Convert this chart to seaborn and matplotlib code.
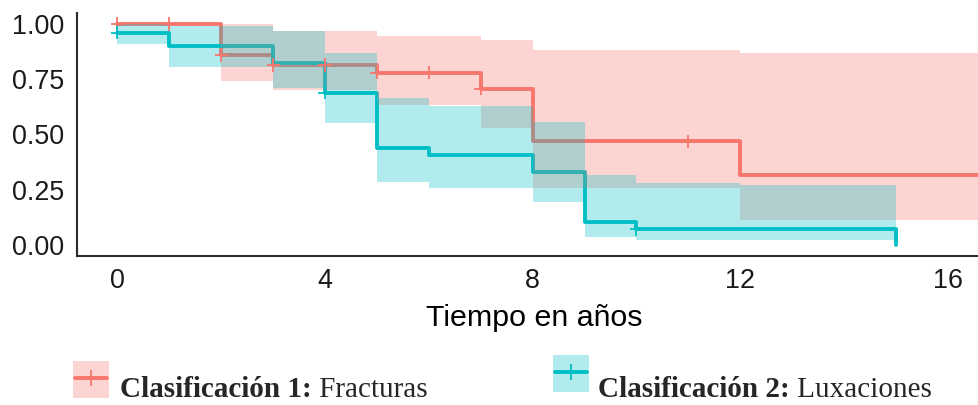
import numpy as np
import pandas as pd
import matplotlib
matplotlib.use("Agg")
import matplotlib.pyplot as plt
import seaborn as sns
from matplotlib.patches import Rectangle
from matplotlib.lines import Line2D

# Kaplan-Meier step values
frac_time = [0, 2, 3, 5, 7, 8, 12, 17]
frac_surv = [1.00, 0.86, 0.815, 0.78, 0.707, 0.47, 0.315, 0.315]
frac_lower = [1.00, 0.743, 0.70, 0.635, 0.53, 0.257, 0.113, 0.113]
frac_upper = [1.00, 1.00, 0.97, 0.946, 0.93, 0.883, 0.87, 0.87]
frac_cens_time = [0, 1, 2, 3, 4, 5, 6, 7, 11]
frac_cens_surv = [1.00, 1.00, 0.86, 0.815, 0.815, 0.78, 0.78, 0.707, 0.47]

lux_time = [0, 1, 3, 4, 5, 6, 8, 9, 10, 12, 15]
lux_surv = [0.96, 0.90, 0.825, 0.69, 0.437, 0.405, 0.33, 0.105, 0.07, 0.07, 0.0]
lux_lower = [0.91, 0.806, 0.71, 0.55, 0.284, 0.257, 0.194, 0.036, 0.022, 0.022, 0.0]
lux_upper = [1.00, 0.99, 0.97, 0.87, 0.667, 0.63, 0.555, 0.315, 0.28, 0.27, 0.0]
lux_cens_time = [0, 4, 10]
lux_cens_surv = [0.96, 0.69, 0.07]

groups = ["Fracturas", "Luxaciones"]
colors = {"Fracturas": "#F8766D", "Luxaciones": "#00BFC4"}
x_ticks = [0, 4, 8, 12, 16]
y_ticks = [0.00, 0.25, 0.50, 0.75, 1.00]

curves = pd.concat([
    pd.DataFrame({"tiempo": frac_time, "surv": frac_surv, "lower": frac_lower,
                  "upper": frac_upper, "grupo": "Fracturas"}),
    pd.DataFrame({"tiempo": lux_time, "surv": lux_surv, "lower": lux_lower,
                  "upper": lux_upper, "grupo": "Luxaciones"}),
], ignore_index=True)
censors = pd.concat([
    pd.DataFrame({"tiempo": frac_cens_time, "surv": frac_cens_surv, "grupo": "Fracturas"}),
    pd.DataFrame({"tiempo": lux_cens_time, "surv": lux_cens_surv, "grupo": "Luxaciones"}),
], ignore_index=True)

sns.set_style("white")
plt.rcParams["font.family"] = ["Liberation Sans", "DejaVu Sans"]

W, H = 979, 405
fig = plt.figure(figsize=(W / 100, H / 100), dpi=100)
ax = fig.add_axes([77 / W, 1 - 256 / H, (992 - 77) / W, (256 - 13) / H])

# step lines first, ribbons on top (as ggsurvplot does)
sns.lineplot(data=curves, x="tiempo", y="surv", hue="grupo", palette=colors,
             hue_order=groups, drawstyle="steps-post", linewidth=2.8,
             estimator=None, legend=False, ax=ax, zorder=2)
for g in groups:
    d = curves[curves["grupo"] == g]
    ax.fill_between(d["tiempo"], d["lower"], d["upper"], step="post",
                    color=colors[g], alpha=0.3, linewidth=0, zorder=3)
sns.scatterplot(data=censors, x="tiempo", y="surv", hue="grupo", palette=colors,
                hue_order=groups, marker="+", s=90, linewidth=1.3,
                legend=False, ax=ax, zorder=4)

ax.set_xlim(-0.78, 16.85)
ax.set_ylim(-0.05, 1.05)
ax.set_xticks(x_ticks)
ax.set_yticks(y_ticks)
ax.set_yticklabels([f"{v:.2f}" for v in y_ticks])
ax.set_xlabel("Tiempo en años", fontsize=21.9, color="black", labelpad=7)
ax.set_ylabel("")
sns.despine(ax=ax)
for s in ["left", "bottom"]:
    ax.spines[s].set_linewidth(1.5)
    ax.spines[s].set_color("#2b2b2b")
ax.tick_params(axis="both", length=5, width=1.5, color="#2b2b2b",
               labelsize=19.4, labelcolor="#1a1a1a", pad=4)

# legend at the bottom, drawn by hand for the mixed bold/regular labels
renderer = fig.canvas.get_renderer()
legend_items = [
    (73, 361, 120, "Clasificación 1:", " Fracturas", "Fracturas"),
    (553, 355, 598, "Clasificación 2:", " Luxaciones", "Luxaciones"),
]
for kx, ky, tx, bold, rest, g in legend_items:
    fig.add_artist(Rectangle((kx / W, 1 - (ky + 37) / H), 36 / W, 37 / H,
                             transform=fig.transFigure, facecolor=colors[g],
                             alpha=0.3, edgecolor="none"))
    cy = 1 - (ky + 17) / H
    fig.add_artist(Line2D([(kx + 2) / W, (kx + 34) / W], [cy, cy],
                          transform=fig.transFigure, color=colors[g], linewidth=2.8))
    fig.add_artist(Line2D([(kx + 18) / W], [cy], transform=fig.transFigure,
                          color=colors[g], marker="+", markersize=11,
                          markeredgewidth=1.3, linestyle="none"))
    t1 = fig.text(tx / W, 1 - 397 / H, bold, fontsize=21, fontweight="bold",
                  family="Liberation Serif", va="baseline", ha="left")
    x1 = t1.get_window_extent(renderer).x1
    fig.text(x1 / W, 1 - 397 / H, rest, fontsize=21,
             family="Liberation Serif", va="baseline", ha="left")

fig.savefig("out.png", dpi=100)
